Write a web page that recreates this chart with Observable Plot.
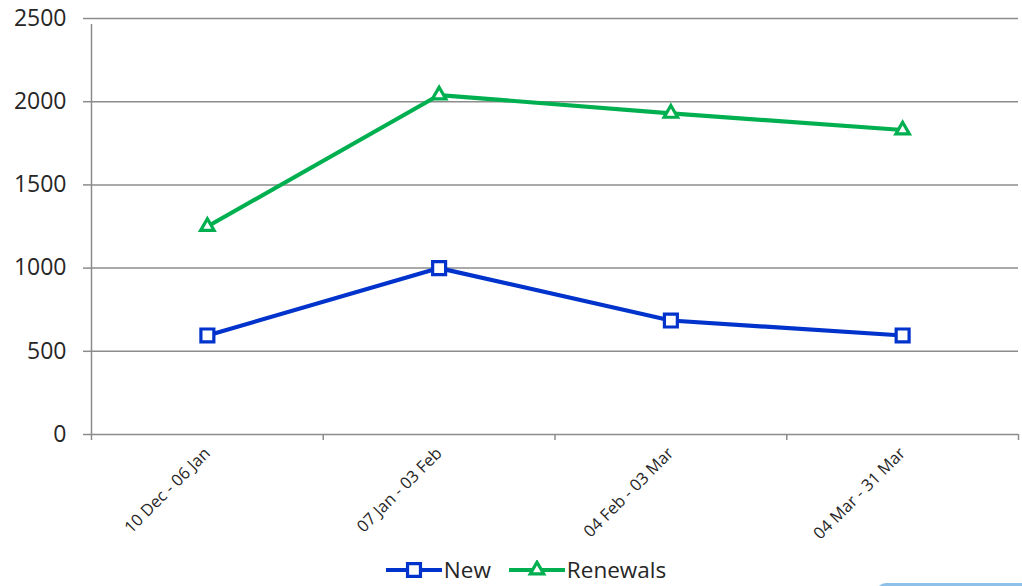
<!DOCTYPE html>
<html>
<head>
<meta charset="utf-8">
<script src="https://cdn.jsdelivr.net/npm/d3@7"></script>
<script src="https://cdn.jsdelivr.net/npm/@observablehq/plot@0.6"></script>
<style>
  html, body { margin: 0; padding: 0; background: #fff; }
  body { width: 1022px; height: 586px; position: relative; overflow: hidden; font-family: "Open Sans", Lato, sans-serif; }
  #legend { position: absolute; left: 0; top: 558px; width: 1022px; height: 24px; line-height: 24px; display: flex; justify-content: center; align-items: center; gap: 18px; font-size: 22.5px; color: #262626; padding-left: 30px; box-sizing: border-box; }
  .item { display: flex; align-items: center; gap: 2px; line-height: 24px; }
  #blue { position: absolute; left: 876px; top: 583px; width: 160px; height: 20px; background: #8fc0e8; border-radius: 10px 0 0 0; }
</style>
</head>
<body>
<div id="chart"></div>
<div id="legend"></div>
<div id="blue"></div>
<script>
const categories = ["10 Dec - 06 Jan", "07 Jan - 03 Feb", "04 Feb - 03 Mar", "04 Mar - 31 Mar"];
const newValues = [595, 1000, 685, 595];
const renewalValues = [1250, 2040, 1930, 1830];
const yTicks = [0, 500, 1000, 1500, 2000, 2500];
const seriesNames = ["New", "Renewals"];
const seriesColors = ["#0033CC", "#00B050"];
const seriesSymbols = ["square", "triangle"];

const rows = [];
categories.forEach((c, i) => {
  rows.push({series: "New", idx: i + 0.5, value: newValues[i]});
  rows.push({series: "Renewals", idx: i + 0.5, value: renewalValues[i]});
});
const boundaries = d3.range(categories.length + 1);
const centers = categories.map((c, i) => i + 0.5);
const grey = "#8c8c8c";

const chart = Plot.plot({
  width: 1022,
  height: 556,
  marginTop: 18,
  marginBottom: 122,
  marginLeft: 91,
  marginRight: 4,
  style: {fontFamily: "'Open Sans', Lato, sans-serif", color: "#262626", background: "white"},
  x: {type: "linear", domain: [0, categories.length]},
  y: {domain: [0, 2500]},
  color: {domain: seriesNames, range: seriesColors},
  symbol: {domain: seriesNames, range: seriesSymbols},
  marks: [
    Plot.ruleY(yTicks, {stroke: grey, strokeWidth: 1.5}),
    Plot.ruleX([0], {stroke: grey, strokeWidth: 1.5, y1: 0, y2: 2500, insetBottom: -6}),
    Plot.axisY({ticks: yTicks, tickSize: 8, tickPadding: 17, stroke: grey, strokeWidth: 1.5, fontSize: 23, tickFormat: d => String(d), label: null}),
    Plot.axisX({ticks: boundaries, tickSize: 6, tickFormat: () => "", stroke: grey, strokeWidth: 1.5, label: null}),
    Plot.axisX({ticks: centers, tickSize: 0, tickPadding: 16, tickRotate: -45, fontSize: 16.5, tickFormat: d => categories[Math.round(d - 0.5)], label: null}),
    Plot.line(rows, {x: "idx", y: "value", z: "series", stroke: "series", strokeWidth: 4.2}),
    Plot.dot(rows.filter(d => d.series === "New"), {x: "idx", y: "value", symbol: "series", stroke: "series", fill: "white", strokeWidth: 3.2, r: 7.3}),
    Plot.dot(rows.filter(d => d.series === "Renewals"), {x: "idx", y: "value", symbol: "series", stroke: "series", fill: "white", strokeWidth: 3.2, r: 5}),
  ]
});
document.getElementById("chart").appendChild(chart);

// Legend
const legend = d3.select("#legend");
seriesNames.forEach((name, i) => {
  const item = legend.append("div").attr("class", "item");
  const svg = item.append("svg").attr("width", 56).attr("height", 20);
  svg.append("line").attr("x1", 0).attr("x2", 56).attr("y1", 10).attr("y2", 10)
    .attr("stroke", seriesColors[i]).attr("stroke-width", 4);
  const sym = d3.symbol().type(i === 0 ? d3.symbolSquare : d3.symbolTriangle).size(Math.PI * (i === 0 ? 7.3 * 7.3 : 5 * 5));
  svg.append("path").attr("d", sym()).attr("transform", "translate(28,10)")
    .attr("fill", "white").attr("stroke", seriesColors[i]).attr("stroke-width", 3.2);
  item.append("span").text(name);
});
</script>
</body>
</html>
